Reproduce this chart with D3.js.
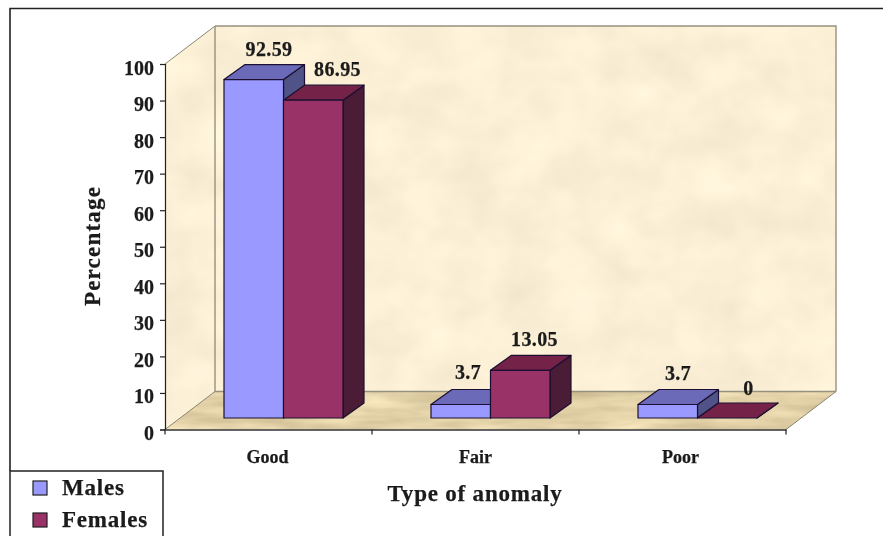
<!DOCTYPE html>
<html><head><meta charset="utf-8">
<script src="https://cdnjs.cloudflare.com/ajax/libs/d3/7.8.5/d3.min.js"></script>
<style>html,body{margin:0;padding:0;background:#fff}svg{display:block}text{font-family:"Liberation Serif","Times New Roman",serif;font-weight:bold;fill:#1a1a1a;stroke:#1a1a1a;stroke-width:0.25px}</style>
</head><body><svg id="c" width="883" height="536"></svg>
<script>
const categories = ["Good","Fair","Poor"];
const seriesNames = ["Males","Females"];
const males = [92.59,3.7,3.7];
const females = [86.95,13.05,0];
const yTicks = [0,10,20,30,40,50,60,70,80,90,100];
const xTitle = "Type of anomaly", yTitle = "Percentage";
const palette = {
  Males:{front:"#9999ff",top:"#6a6ab8",side:"#4f5288"},
  Females:{front:"#993366",top:"#742449",side:"#4b1a34"}
};
const svg = d3.select("#c");
const defs = svg.append("defs");
function paper(id,freq,seed,slope,base){
  const f = defs.append("filter").attr("id",id).attr("x",0).attr("y",0).attr("width",1).attr("height",1).attr("color-interpolation-filters","sRGB");
  f.append("feTurbulence").attr("type","fractalNoise").attr("baseFrequency",freq).attr("numOctaves",3).attr("seed",seed).attr("result","n");
  f.append("feColorMatrix").attr("in","n").attr("type","matrix")
   .attr("values",`${slope} 0 0 0 ${base[0]} ${slope} 0 0 0 ${base[1]} ${slope} 0 0 0 ${base[2]} 0 0 0 0 1`).attr("result","c");
  f.append("feComposite").attr("in","c").attr("in2","SourceAlpha").attr("operator","in");
}
paper("wallTex","0.02 0.025",4,0.08,[0.945,0.90,0.80]);
paper("floorTex","0.015 0.08",7,0.24,[0.77,0.70,0.54]);
defs.append("filter").attr("id","soft").append("feGaussianBlur").attr("stdDeviation",0.4);

const W = {x0:165,x1:786,y0:429.5,y100:64,dx:50,dy:-38};
const y = d3.scaleLinear().domain([0,100]).range([W.y0,W.y100]);
const xAxisScale = d3.scaleBand().domain(categories).range([W.x0,W.x1]);
const pts = a=>a.map(p=>p.join(",")).join(" ");
const root = svg.append("g").attr("filter","url(#soft)");

root.append("path").attr("d","M10,471V8.5H883").attr("fill","none").attr("stroke","#222").attr("stroke-width",1.6);

const sideWall=[[W.x0,W.y100],[W.x0+W.dx,W.y100+W.dy],[W.x0+W.dx,W.y0+W.dy],[W.x0,W.y0]];
const backWall=[[W.x0+W.dx,W.y100+W.dy],[W.x1+W.dx,W.y100+W.dy],[W.x1+W.dx,W.y0+W.dy],[W.x0+W.dx,W.y0+W.dy]];
const floor=[[W.x0,W.y0],[W.x0+W.dx,W.y0+W.dy],[W.x1+W.dx,W.y0+W.dy],[W.x1,W.y0]];
root.append("polygon").attr("points",pts(sideWall)).attr("filter","url(#wallTex)");
root.append("polygon").attr("points",pts(backWall)).attr("filter","url(#wallTex)");
root.append("polygon").attr("points",pts(floor)).attr("filter","url(#floorTex)");
root.append("path").attr("fill","none").attr("stroke","#96917f").attr("stroke-width",1.4)
  .attr("d",`M${W.x0+W.dx},${W.y100+W.dy}H${W.x1+W.dx}V${W.y0+W.dy}M${W.x0+W.dx},${W.y100+W.dy}V${W.y0+W.dy}H${W.x1+W.dx}`);
root.append("path").attr("fill","none").attr("stroke","#8a8470").attr("stroke-width",1)
  .attr("d",`M${W.x0},${W.y100}L${W.x0+W.dx},${W.y100+W.dy}M${W.x1+W.dx},${W.y0+W.dy}L${W.x1},${W.y0}M${W.x0+W.dx},${W.y0+W.dy}L${W.x0},${W.y0}`);

// axes
const yAxis = root.append("g").attr("transform",`translate(${W.x0},0)`)
  .call(d3.axisLeft(y).tickValues(yTicks).tickSize(5).tickPadding(6));
yAxis.selectAll("text").attr("font-size",20).attr("dy","0.5em").style("font-family",'"Liberation Serif"').style("font-weight","bold").attr("fill","#1a1a1a");
yAxis.selectAll("line,path").attr("stroke","#222").attr("stroke-width",1.2);
const xAxis = root.append("g").attr("transform",`translate(0,${W.y0})`)
  .call(d3.axisBottom(xAxisScale).tickValues([]).tickSize(0));
xAxis.select("path").attr("stroke","#333").attr("stroke-width",1.3);
xAxis.selectAll(".edge").data(d3.range(categories.length+1)).join("line").attr("class","edge")
  .attr("x1",i=>W.x0+i*xAxisScale.step()).attr("x2",i=>W.x0+i*xAxisScale.step()).attr("y1",0).attr("y2",5).attr("stroke","#222").attr("stroke-width",1.2);
const catNudge = [-1,0,-2];
root.selectAll(".cat").data(categories).join("text").attr("class","cat")
  .attr("x",(d,i)=>xAxisScale(d)+xAxisScale.bandwidth()/2+catNudge[i]).attr("y",463).attr("text-anchor","middle").attr("font-size",18).text(d=>d);

// bars
const floorY = 418, floorDx = 15;
const depth = {x:21,y:-15};
const band = d3.scaleBand().domain(categories).range([W.x0+floorDx,W.x1+floorDx]);
const sub = d3.scaleBand().domain(seriesNames).range([0,119]);
const hUnit = (W.y0-W.y100)/100;
const offX = (band.bandwidth()-119)/2;
const series = [{name:"Males",values:males,nudge:[[45,-9],[37,-10],[40,-9]]},{name:"Females",values:females,nudge:[[54,-9],[44,-9],[51,-8]]}];
series.forEach(s=>{
  const c = palette[s.name];
  categories.forEach((cat,i)=>{
    const v=s.values[i], x0=band(cat)+offX+sub(s.name), x1=x0+sub.bandwidth();
    const yt=floorY-v*hUnit;
    const g=root.append("g").attr("stroke","#1c1030").attr("stroke-width",1.2).attr("stroke-linejoin","round");
    g.append("polygon").attr("points",pts([[x1,yt],[x1+depth.x,yt+depth.y],[x1+depth.x,floorY+depth.y],[x1,floorY]])).attr("fill",c.side);
    g.append("polygon").attr("points",pts([[x0,yt],[x0+depth.x,yt+depth.y],[x1+depth.x,yt+depth.y],[x1,yt]])).attr("fill",c.top);
    g.append("rect").attr("x",x0).attr("y",yt).attr("width",sub.bandwidth()).attr("height",floorY-yt).attr("fill",c.front);
  });
});
series.forEach(s=>categories.forEach((cat,i)=>{
  const v=s.values[i], x0=band(cat)+offX+sub(s.name);
  root.append("text").attr("x",x0+s.nudge[i][0]).attr("y",floorY-v*hUnit+depth.y+s.nudge[i][1])
    .attr("text-anchor","middle").attr("font-size",20).attr("letter-spacing",0.4).text(v);
}));

// titles
root.append("text").attr("x",475).attr("y",501).attr("text-anchor","middle").attr("font-size",23).attr("letter-spacing",0.8).text(xTitle);
root.append("text").attr("transform","translate(100,246) rotate(-90)").attr("text-anchor","middle").attr("font-size",23).attr("letter-spacing",1.2).text(yTitle);

// legend
root.append("path").attr("d","M10,536V471H163V536").attr("fill","none").attr("stroke","#222").attr("stroke-width",1.5);
seriesNames.forEach((n,i)=>{
  const yy=488+i*32;
  root.append("rect").attr("x",33).attr("y",yy-7).attr("width",14).attr("height",14).attr("fill",palette[n].front).attr("stroke","#222").attr("stroke-width",1.2);
  root.append("text").attr("x",62).attr("y",yy+7).attr("font-size",23).attr("letter-spacing",0.8).text(n);
});
</script></body></html>
